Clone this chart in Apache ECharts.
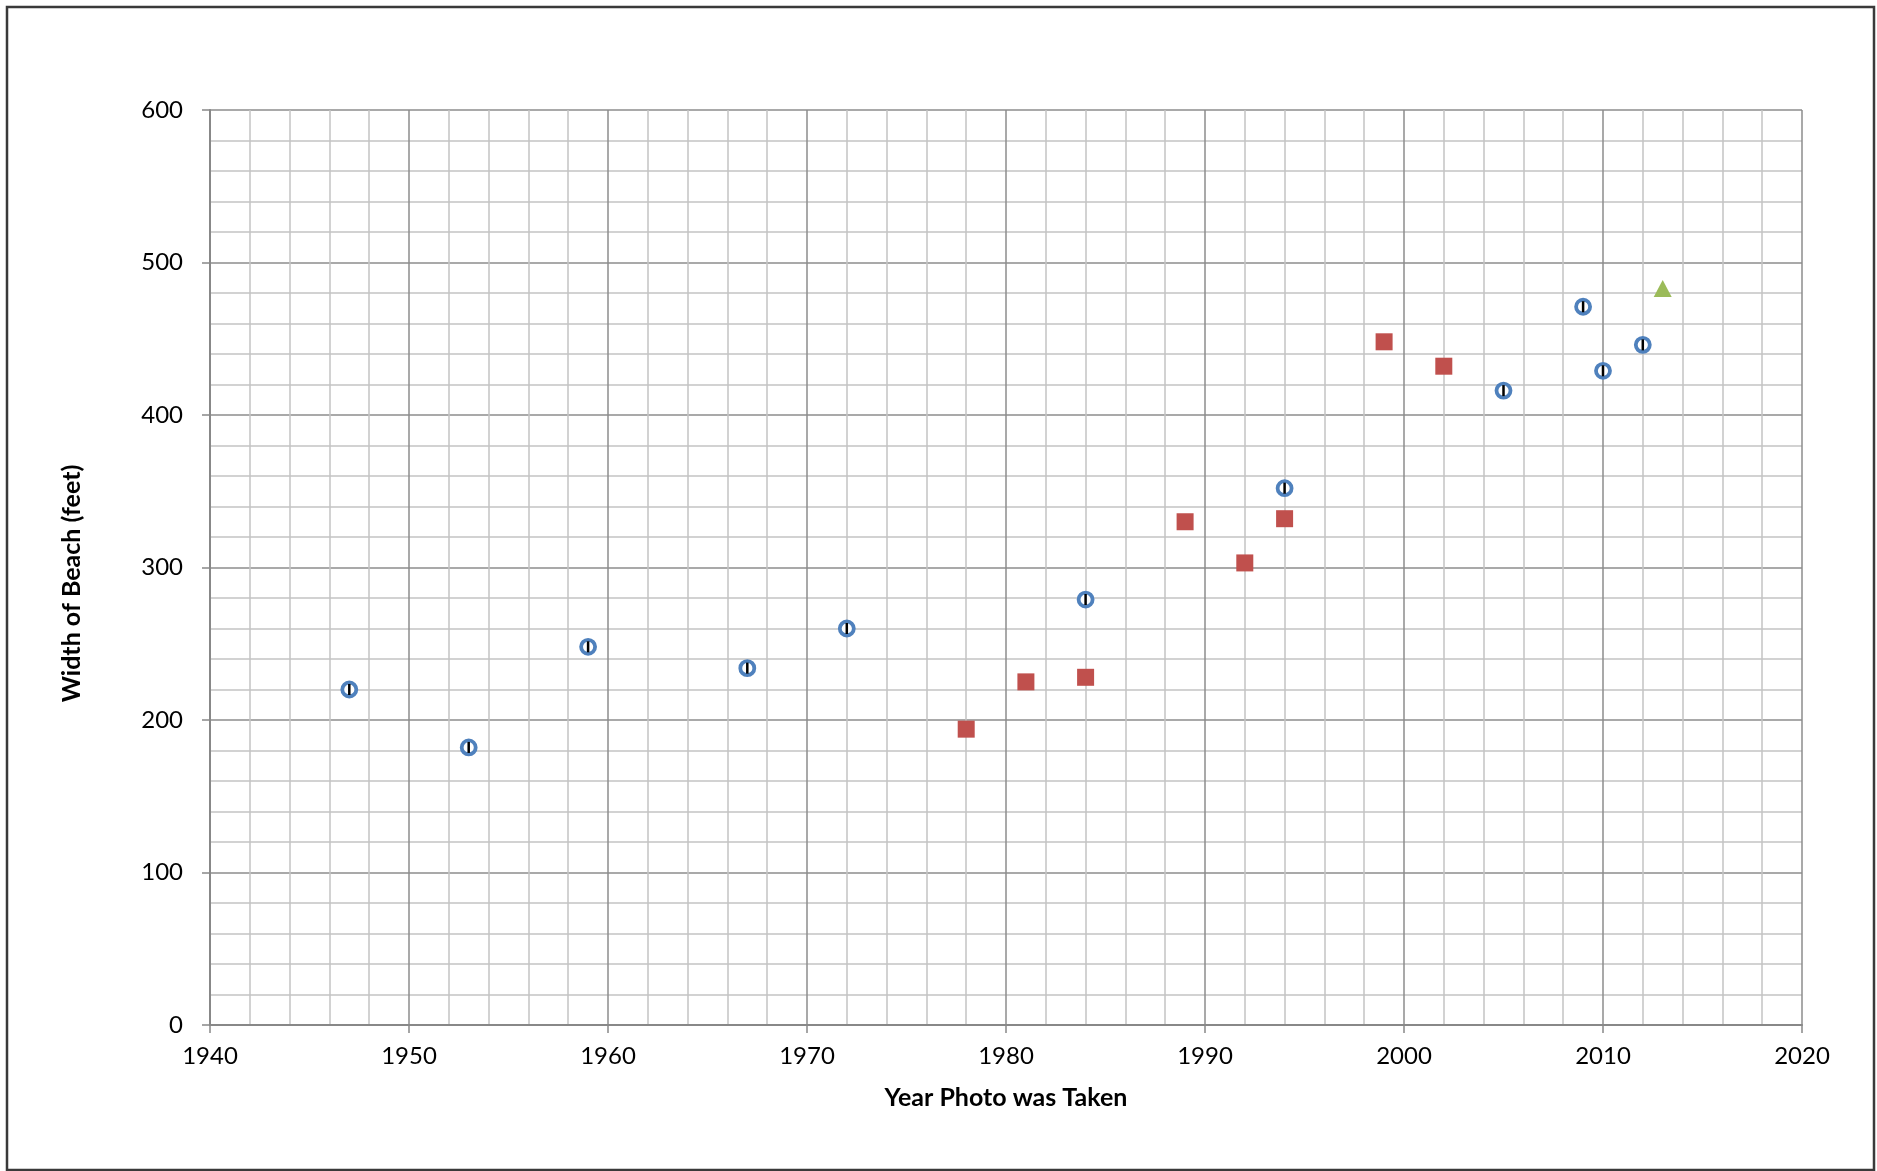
<!DOCTYPE html>
<html>
<head>
<meta charset="utf-8">
<script src="https://cdn.jsdelivr.net/npm/echarts@6/dist/echarts.min.js"></script>
<style>
html,body{margin:0;padding:0;background:#fff;}
#chart{width:1877px;height:1171px;}
</style>
</head>
<body>
<div id="chart"></div>
<script>
var blueYears = [1947, 1953, 1959, 1967, 1972, 1984, 1994, 2005, 2009, 2010, 2012];
var blueWidths = [220, 182, 248, 234, 260, 279, 352, 416, 471, 429, 446];
var redYears = [1978, 1981, 1984, 1989, 1992, 1994, 1999, 2002];
var redWidths = [194, 225, 228, 330, 303, 332, 448, 432];
var greenYears = [2013];
var greenWidths = [483];
var xTitle = 'Year Photo was Taken';
var yTitle = 'Width of Beach (feet)';

function pairs(xs, ys) { return xs.map(function (x, i) { return [x, ys[i]]; }); }

var font = 'Lato, "Open Sans", sans-serif';
var chart = echarts.init(document.getElementById('chart'), null, {renderer: 'canvas'});
chart.setOption({
  animation: false,
  backgroundColor: '#ffffff',
  graphic: [{
    type: 'rect',
    shape: {x: 7, y: 7, width: 1867, height: 1163},
    style: {fill: 'none', stroke: '#3a3a3a', lineWidth: 2.5},
    silent: true
  }],
  grid: {left: 210, right: 75, top: 110, bottom: 146, containLabel: false},
  xAxis: {
    type: 'value', min: 1940, max: 2020, interval: 10,
    name: xTitle, nameLocation: 'middle', nameGap: 60,
    nameTextStyle: {fontFamily: font, fontWeight: 'bold', fontSize: 25, color: '#000'},
    axisLine: {show: true, onZero: false, lineStyle: {color: '#888888', width: 2}},
    axisTick: {show: true, length: 8, lineStyle: {color: '#888888', width: 1.5}},
    axisLabel: {fontFamily: font, fontSize: 24, color: '#000', margin: 19,
      formatter: function (v) { return String(v); }},
    splitLine: {show: true, lineStyle: {color: '#8c8c8c', width: 1.5}},
    minorTick: {show: false, splitNumber: 5},
    minorSplitLine: {show: true, lineStyle: {color: '#c4c4c4', width: 1.5}}
  },
  yAxis: {
    type: 'value', min: 0, max: 600, interval: 100,
    name: yTitle, nameLocation: 'middle', nameGap: 126,
    nameTextStyle: {fontFamily: font, fontWeight: 'bold', fontSize: 25, color: '#000',
      padding: [0, 32, 0, 0]},
    axisLine: {show: true, lineStyle: {color: '#888888', width: 2}},
    axisTick: {show: true, length: 8, lineStyle: {color: '#888888', width: 1.5}},
    axisLabel: {fontFamily: font, fontSize: 24, color: '#000', margin: 27},
    splitLine: {show: true, lineStyle: {color: '#8c8c8c', width: 1.5}},
    minorTick: {show: false, splitNumber: 5},
    minorSplitLine: {show: true, lineStyle: {color: '#c4c4c4', width: 1.5}}
  },
  series: [
    {
      type: 'scatter', name: 'blue', data: pairs(blueYears, blueWidths),
      symbol: 'circle', symbolSize: 14, z: 3,
      itemStyle: {color: '#ffffff', borderColor: '#4F81BD', borderWidth: 3.8, opacity: 1}
    },
    {
      type: 'scatter', name: 'blueBar', data: pairs(blueYears, blueWidths),
      symbol: 'rect', symbolSize: [2.5, 11], z: 4,
      itemStyle: {color: '#000000', opacity: 1}
    },
    {
      type: 'scatter', name: 'red', data: pairs(redYears, redWidths),
      symbol: 'rect', symbolSize: 17, z: 3,
      itemStyle: {color: '#C0504D', opacity: 1}
    },
    {
      type: 'scatter', name: 'green', data: pairs(greenYears, greenWidths),
      symbol: 'triangle', symbolSize: [18, 17], z: 3,
      itemStyle: {color: '#9BBB59', opacity: 1}
    }
  ]
});
</script>
</body>
</html>
